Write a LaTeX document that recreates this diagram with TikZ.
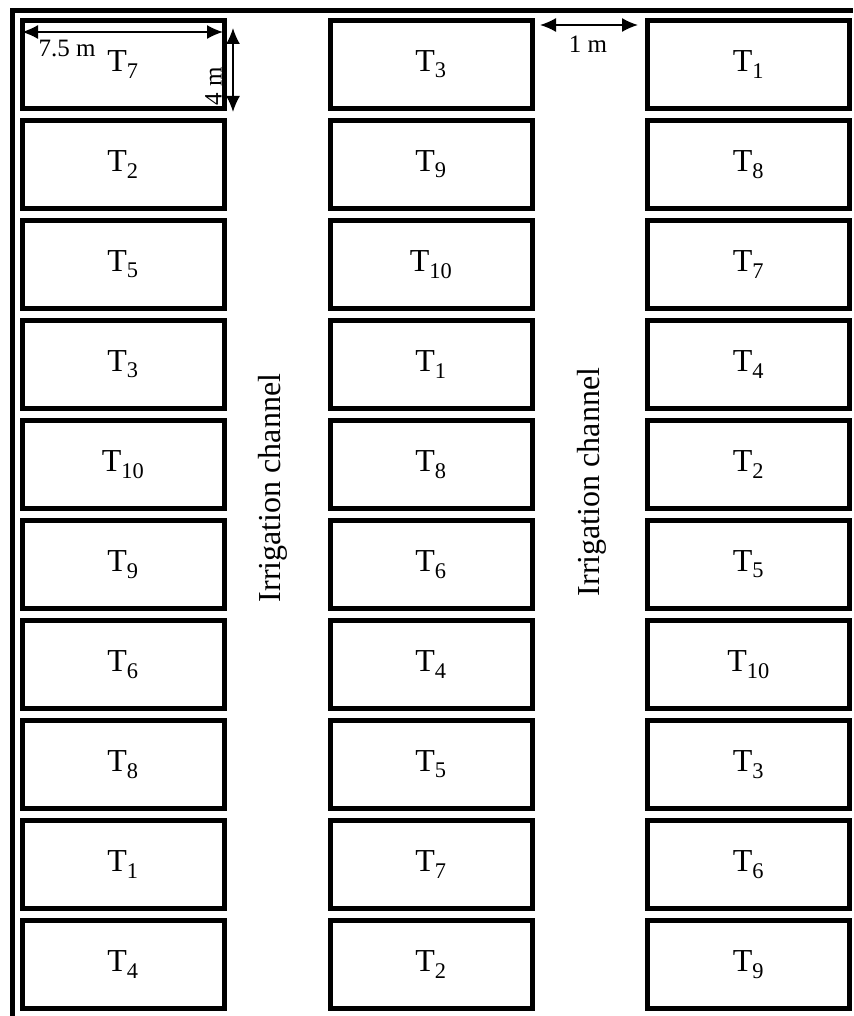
\documentclass[tikz,border=0pt]{standalone}
\usepackage{fontspec}
\setmainfont{Liberation Serif}
\usetikzlibrary{arrows.meta}

\tikzset{
	plotbox/.style={draw, line width=5pt, minimum width=202pt, minimum height=88pt, inner sep=0pt, font=\fontsize{32}{36}\selectfont},
	dimarrow/.style={{Latex[length=16pt,width=14pt]}-{Latex[length=16pt,width=14pt]}, line width=1.6pt},
	dimlabel/.style={inner sep=0pt, font=\fontsize{25}{28}\selectfont},
	channel/.style={rotate=90, inner sep=0pt, font=\fontsize{32}{36}\selectfont}
}

\begin{document}
\begin{tikzpicture}[x=1pt,y=-1pt]
	\useasboundingbox (0,0) rectangle (853,1016);
	
	% field border
	\draw[line width=5pt] (12.5,1016) -- (12.5,10.5) -- (853,10.5);
	
	% left column
	\foreach \r/\t in {1/7,2/2,3/5,4/3,5/10,6/9,7/6,8/8,9/1,10/4}
	{
		\node[plotbox] (L\r) at (123,{64.5+100*(\r-1)}) {T\textsubscript{\t}};
	}
	% middle column
	\foreach \r/\t in {1/3,2/9,3/10,4/1,5/8,6/6,7/4,8/5,9/7,10/2}
	{
		\node[plotbox] (M\r) at (431,{64.5+100*(\r-1)}) {T\textsubscript{\t}};
	}
	% right column
	\foreach \r/\t in {1/1,2/8,3/7,4/4,5/2,6/5,7/10,8/3,9/6,10/9}
	{
		\node[plotbox] (R\r) at (748.5,{64.5+100*(\r-1)}) {T\textsubscript{\t}};
	}
	
	% plot size
	\coordinate (wA) at (22,32);
	\coordinate (wB) at (223,32);
	\draw[dimarrow] (wA) -- (wB);
	\node[dimlabel] (W) at (67,48) {7.5 m};
	
	\coordinate (hA) at (233,28);
	\coordinate (hB) at (233,112);
	\draw[dimarrow] (hA) -- (hB);
	\node[dimlabel,rotate=90] (H) at (213.5,86) {4 m};
	
	% path between plots
	\coordinate (gA) at (540,25);
	\coordinate (gB) at (638,25);
	\draw[dimarrow] (gA) -- (gB);
	\node[dimlabel] (G) at (588,44) {1 m};
	
	% channels
	\node[channel] (C1) at (273,488) {Irrigation channel};
	\node[channel] (C2) at (592,482) {Irrigation channel};
	
\end{tikzpicture}
\end{document}
